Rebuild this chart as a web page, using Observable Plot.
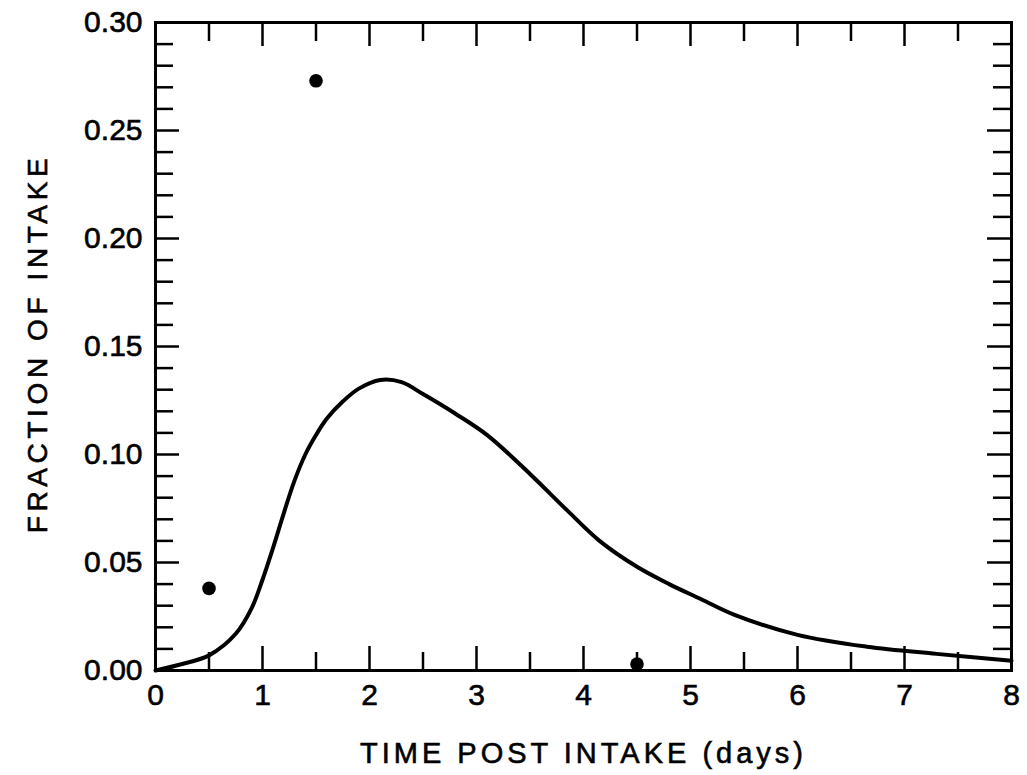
<!DOCTYPE html>
<html>
<head>
<meta charset="utf-8">
<script src="https://cdn.jsdelivr.net/npm/d3@7"></script>
<script src="https://cdn.jsdelivr.net/npm/@observablehq/plot@0.6"></script>
<style>
  html, body { margin: 0; padding: 0; background: #fff; }
  #chart svg { display: block; }
</style>
</head>
<body>
<div id="chart"></div>
<script>
// Model curve (fraction of intake vs time, days)
const curveDays = [0, 0.25, 0.5, 0.75, 0.9, 1.0, 1.1, 1.2, 1.3, 1.4, 1.5, 1.6, 1.75, 1.9, 2.1, 2.3, 2.5, 2.8, 3.1, 3.5, 3.85, 4.15, 4.5, 4.8, 5.1, 5.4, 6.0, 6.65, 7.3, 8.0];
const curveFrac = [0.000, 0.003, 0.007, 0.017, 0.029, 0.042, 0.057, 0.073, 0.088, 0.100, 0.109, 0.1165, 0.1245, 0.1305, 0.1345, 0.1335, 0.128, 0.119, 0.109, 0.091, 0.074, 0.060, 0.048, 0.040, 0.033, 0.026, 0.0165, 0.011, 0.0077, 0.0045];

// Measured points
const pointDays = [0.5, 1.5, 4.5];
const pointFrac = [0.038, 0.273, 0.003];

// Ticks and labels
const xMajor = [0, 1, 2, 3, 4, 5, 6, 7, 8];
const xMinor = [0.5, 1.5, 2.5, 3.5, 4.5, 5.5, 6.5, 7.5];
const yMajor = [0, 0.05, 0.10, 0.15, 0.20, 0.25, 0.30];
const yMinor = d3.range(1, 30).filter(i => i % 5 !== 0).map(i => i / 100);
const xLabel = "TIME POST INTAKE (days)";
const yLabel = "FRACTION OF INTAKE";

const curve = curveDays.map((d, i) => ({x: d, y: curveFrac[i]}));
const points = pointDays.map((d, i) => ({x: d, y: pointFrac[i]}));

const W = 1027, H = 775;
const mt = 22, mb = 105, ml = 155, mr = 16;
const ih = H - mt - mb, iw = W - ml - mr;
const majLen = 24, minLen = 18;
const tk = {strokeWidth: 2.5, stroke: "#000"};

const chart = Plot.plot({
  width: W, height: H,
  marginTop: mt, marginBottom: mb, marginLeft: ml, marginRight: mr,
  style: {background: "#fff", color: "#000", fontFamily: "'Liberation Sans', Arial, sans-serif", overflow: "visible"},
  x: {domain: [0, 8]},
  y: {domain: [0, 0.30]},
  marks: [
    // inward ticks, bottom and top
    Plot.tickX(xMajor, {x: d => d, insetTop: ih - majLen, ...tk}),
    Plot.tickX(xMinor, {x: d => d, insetTop: ih - minLen, ...tk}),
    Plot.tickX(xMajor, {x: d => d, insetBottom: ih - majLen, ...tk}),
    Plot.tickX(xMinor, {x: d => d, insetBottom: ih - minLen - 1, ...tk}),
    // inward ticks, left and right
    Plot.tickY(yMajor, {y: d => d, insetRight: iw - majLen, ...tk}),
    Plot.tickY(yMinor, {y: d => d, insetRight: iw - minLen, ...tk}),
    Plot.tickY(yMajor, {y: d => d, insetLeft: iw - majLen, ...tk}),
    Plot.tickY(yMinor, {y: d => d, insetLeft: iw - minLen, ...tk}),
    Plot.frame({stroke: "#000", strokeWidth: 3}),
    Plot.axisX({ticks: xMajor, tickSize: 0, tickPadding: 13, fontSize: 30, tickFormat: d3.format("d"), label: null}),
    Plot.axisY({ticks: yMajor, tickSize: 0, tickPadding: 13, fontSize: 30, tickFormat: d3.format(".2f"), label: null}),
    Plot.line(curve, {x: "x", y: "y", curve: "catmull-rom", stroke: "#000", strokeWidth: 4}),
    Plot.dot(points, {x: "x", y: "y", r: 6.8, fill: "#000", stroke: null}),
    Plot.text([xLabel], {text: d => d, frameAnchor: "bottom", textAnchor: "middle", lineAnchor: "top", dy: 72, fontSize: 29, fill: "#000"}),
    Plot.text([yLabel], {text: d => d, frameAnchor: "left", textAnchor: "middle", rotate: -90, dx: -117, dy: -3, fontSize: 28, fill: "#000"})
  ]
});
document.getElementById("chart").appendChild(chart);

// lettering style: heavier strokes and wider spacing like the original
const svg = d3.select(chart);
svg.selectAll("text").attr("stroke", "#000").attr("stroke-width", 0.6);
svg.selectAll("text").filter(function() { return this.textContent === xLabel; }).style("letter-spacing", "4px");
svg.selectAll("text").filter(function() { return this.textContent === yLabel; }).style("letter-spacing", "4.6px");
</script>
</body>
</html>
